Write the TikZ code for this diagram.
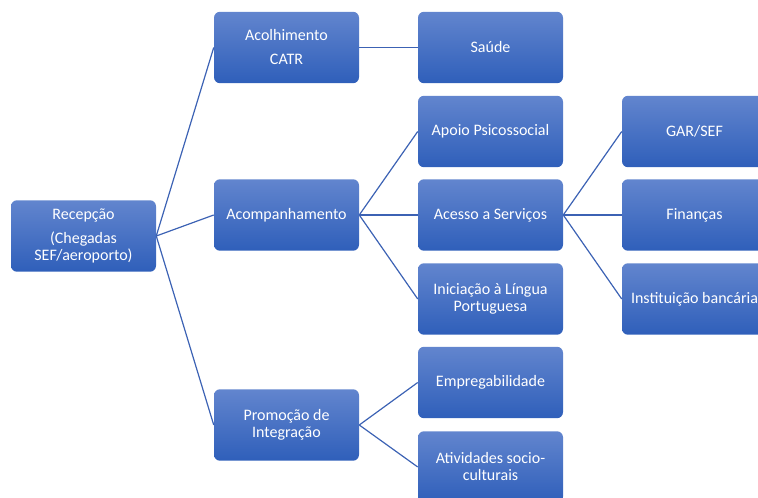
\documentclass[tikz,border=0pt]{standalone}
\usepackage{fontspec}
\setmainfont{Carlito}
\definecolor{boxtop}{RGB}{98,133,206}
\definecolor{boxbot}{RGB}{47,95,186}
\definecolor{linkblue}{RGB}{60,98,180}
\begin{document}
\begin{tikzpicture}[x=0.75pt,y=-0.75pt,
	box/.style={rectangle,rounded corners=4.5pt,top color=boxtop,bottom color=boxbot,
		minimum width=108.75pt,minimum height=53.6pt,text=white,align=center,
		font=\fontsize{12}{12.75}\selectfont},
	link/.style={draw=linkblue,line width=0.9pt}]
				\useasboundingbox (0,0) rectangle (758,498);
				% first column
				\node [box] (rec) at (83.5,236) {Recepção\\[5.25pt](Chegadas\\SEF/aeroporto)};
				% second column
				\node [box] (acol) at (286.5,47.5) {Acolhimento\\[5.25pt]CATR};
				\node [box] (acomp) at (286.5,215) {Acompanhamento};
				\node [box] (prom) at (286.5,425) {Promoção de\\Integração};
				% third column
				\node [box] (saude) at (490.5,47.5) {Saúde};
				\node [box] (apoio) at (490.5,131.5) {Apoio Psicossocial};
				\node [box] (acesso) at (490.5,215) {Acesso a Serviços};
				\node [box] (inic) at (490.5,299) {Iniciação à Língua\\Portuguesa};
				\node [box] (empreg) at (490.5,382.5) {Empregabilidade};
				\node [box] (ativ) at (490.5,467) {Atividades socio-\\culturais};
				% fourth column
				\node [box] (gar) at (694.5,131.5) {GAR/SEF};
				\node [box] (fin) at (694.5,215) {Finanças};
				\node [box] (inst) at (694.5,299) {Instituição bancária};
				% links
				\draw [link] (rec.east) -- (acol.west);
				\draw [link] (rec.east) -- (acomp.west);
				\draw [link] (rec.east) -- (prom.west);
				\draw [link] (acol.east) -- (saude.west);
				\draw [link] (acomp.east) -- (apoio.west);
				\draw [link] (acomp.east) -- (acesso.west);
				\draw [link] (acomp.east) -- (inic.west);
				\draw [link] (prom.east) -- (empreg.west);
				\draw [link] (prom.east) -- (ativ.west);
				\draw [link] (acesso.east) -- (gar.west);
				\draw [link] (acesso.east) -- (fin.west);
				\draw [link] (acesso.east) -- (inst.west);
			\end{tikzpicture}
\end{document}
